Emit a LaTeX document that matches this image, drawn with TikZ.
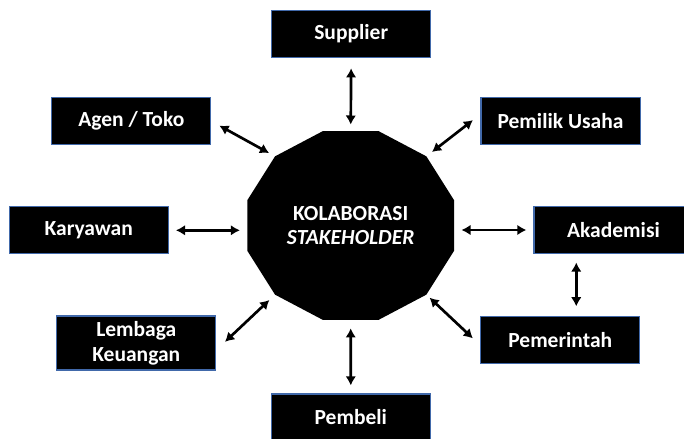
\documentclass[tikz,border=0pt]{standalone}
\usepackage{fontspec}
\setmainfont{Carlito}
\usetikzlibrary{arrows.meta}

\definecolor{garisbiru}{RGB}{65,105,170}

\tikzset{
  kotak/.style={rectangle, fill=black, draw=garisbiru, line width=0.75pt,
    text=white, font=\fontsize{15.3}{17.8}\selectfont\bfseries,
    minimum width=3.975cm, minimum height=1.175cm, inner sep=0pt, align=center},
  panah/.style={{Latex[length=6.5pt,width=7.5pt]}-{Latex[length=6.5pt,width=7.5pt]},
    line width=1.9pt, shorten <=5pt, shorten >=5pt}
}

\begin{document}
\begin{tikzpicture}[x=0.025cm, y=-0.025cm]
\clip (0,0) rectangle (684,439);

% Pusat
\foreach \a in {15,45,...,345}
	\coordinate (v\a) at ({350.7+107*cos(\a)},{225.5-97.8*sin(\a)});
\fill (v15) \foreach \a in {45,75,...,345} {-- (v\a)} -- cycle;
\node[minimum width=5.17cm, minimum height=4.725cm, inner sep=0pt, align=center,
  text=white, font=\fontsize{15.3}{17}\selectfont\bfseries] (pusat) at (350.7,225.5)
  {KOLABORASI\\\textit{STAKEHOLDER}};

% Kotak stakeholder
\node[kotak] (supplier) at (351.2,33.7) {Supplier};
\node[kotak] (agen) at (131.3,121.2) {Agen / Toko};
\node[kotak] (pemilik) at (560.5,121.3) {Pemilik Usaha};
\node[kotak] (karyawan) at (88.8,230.3) {Karyawan};
\node[kotak] (akademisi) at (613.5,230) {Akademisi};
\node[kotak, minimum height=1.35cm] (lembaga) at (136.3,343) {Lembaga\\Keuangan};
\node[kotak] (pemerintah) at (560.3,339.7) {Pemerintah};
\node[kotak] (pembeli) at (350.8,417.5) {Pembeli};

% Panah
\draw[panah, shorten <=7.5pt, shorten >=4.3pt] (supplier.south) -- (pusat.north);
\draw[panah, shorten <=5.7pt, shorten >=5.7pt] (pusat.south) -- (pembeli.north);
\draw[panah] (karyawan.east) -- (karyawan.east -| pusat.west);
\draw[panah] (akademisi.west -| pusat.east) -- (akademisi.west);
\draw[panah, shorten <=6.5pt, shorten >=4.8pt] (agen.east) -- (v135);
\draw[panah, shorten >=6.7pt] (v45) -- (pemilik.175);
\draw[panah, shorten <=8.4pt, shorten >=5.5pt] (lembaga.-5) -- (v225);
\draw[panah, shorten <=3.1pt, shorten >=7.2pt] (v315) -- (pemerintah.184);
\coordinate (ap) at ([xshift=1.07cm]akademisi.south west);
\draw[panah, shorten <=6pt, shorten >=6.6pt] (ap) -- (ap |- pemerintah.north);
\end{tikzpicture}
\end{document}
